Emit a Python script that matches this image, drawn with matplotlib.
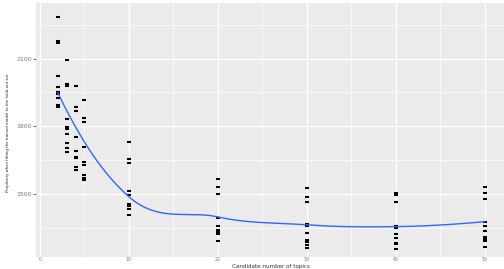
import numpy as np
import matplotlib
matplotlib.use("Agg")
import matplotlib.pyplot as plt

# perplexity values read per candidate number of topics
k_values = [2, 3, 4, 5, 10, 20, 30, 40, 50]
perp_k2 = [2285, 2179, 2171, 2021, 1972, 1954, 1950, 1941, 1924, 1893, 1884]
perp_k3 = [2094, 1988, 1979, 1832, 1799, 1787, 1766, 1728, 1704, 1686]
perp_k4 = [1979, 1885, 1867, 1754, 1692, 1666, 1660, 1619, 1607]
perp_k5 = [1917, 1837, 1817, 1708, 1642, 1628, 1583, 1572, 1563]
perp_k10 = [1731, 1654, 1637, 1515, 1497, 1456, 1447, 1435, 1409]
perp_k20 = [1566, 1533, 1501, 1394, 1359, 1342, 1332, 1322, 1294]
perp_k30 = [1527, 1486, 1465, 1365, 1359, 1329, 1297, 1288, 1276, 1261]
perp_k40 = [1506, 1497, 1465, 1359, 1350, 1323, 1303, 1285, 1279, 1256]
perp_k50 = [1530, 1506, 1477, 1374, 1359, 1338, 1309, 1300, 1294, 1267]

x_ticks = [0, 10, 20, 30, 40, 50]
y_ticks = [1500, 1800, 2100]

groups = [perp_k2, perp_k3, perp_k4, perp_k5, perp_k10,
          perp_k20, perp_k30, perp_k40, perp_k50]
xs = np.concatenate([[k] * len(g) for k, g in zip(k_values, groups)]).astype(float)
ys = np.concatenate(groups).astype(float)


def local_fit(x, y, x0, span=0.75):
    # local quadratic with tricube weights -> value and slope at x0
    n = len(x)
    q = int(np.floor(n * span))
    d = np.abs(x - x0)
    dmax = np.sort(d)[q - 1]
    w = np.clip(1 - (d / dmax) ** 3, 0, None) ** 3
    X = np.column_stack([np.ones(n), x - x0, (x - x0) ** 2])
    W = np.sqrt(w)
    beta, *_ = np.linalg.lstsq(X * W[:, None], y * W, rcond=None)
    return beta[0], beta[1]


def kd_vertices(x, fc):
    # split points like R's loess kd tree (1-d case)
    xs_sorted = np.sort(x)
    lo_b = xs_sorted[0] - 0.005 * (xs_sorted[-1] - xs_sorted[0])
    hi_b = xs_sorted[-1] + 0.005 * (xs_sorted[-1] - xs_sorted[0])
    verts = {lo_b, hi_b}

    def split(l, u, a, b):
        if u - l + 1 <= fc:
            return
        m = (l + u) // 2
        off = 0
        while l <= m + off < u:
            if xs_sorted[m + off] == xs_sorted[m + off + 1]:
                off = -off
                if off >= 0:
                    off += 1
            else:
                break
        else:
            return
        m = m + off
        v = xs_sorted[m]
        if v == a or v == b:
            return
        verts.add(v)
        split(l, m, a, v)
        split(m + 1, u, v, b)

    split(0, len(x) - 1, lo_b, hi_b)
    return np.array(sorted(verts))


def loess_curve(x, y, x_eval, span=0.75):
    fc = int(np.floor(len(x) * span * 0.2))
    verts = kd_vertices(x, fc)
    vals = np.array([local_fit(x, y, v, span) for v in verts])
    out = []
    for t in x_eval:
        i = min(np.searchsorted(verts, t, side='right') - 1, len(verts) - 2)
        x0, x1 = verts[i], verts[i + 1]
        h = x1 - x0
        s = (t - x0) / h
        h00 = 2 * s**3 - 3 * s**2 + 1
        h10 = s**3 - 2 * s**2 + s
        h01 = -2 * s**3 + 3 * s**2
        h11 = s**3 - s**2
        out.append(h00 * vals[i, 0] + h10 * h * vals[i, 1]
                   + h01 * vals[i + 1, 0] + h11 * h * vals[i + 1, 1])
    return np.array(out)


grid = np.linspace(xs.min(), xs.max(), 200)
smooth = loess_curve(xs, ys, grid)

fig = plt.figure(figsize=(5.04, 2.69), dpi=100)
ax = fig.add_axes([0.0722, 0.0446, 0.932, 0.9424])
ax.set_facecolor('#EBEBEB')

ax.set_xlim(-0.4, 52.4)
ax.set_ylim(1221, 2344)

# ggplot style grid
for v in [5, 15, 25, 35, 45]:
    ax.axvline(v, color='white', lw=0.5, zorder=0)
for v in [1350, 1650, 1950, 2250]:
    ax.axhline(v, color='white', lw=0.5, zorder=0)
for v in x_ticks:
    ax.axvline(v, color='white', lw=1.0, zorder=0)
for v in y_ticks:
    ax.axhline(v, color='white', lw=1.0, zorder=0)

ax.plot(xs, ys, linestyle='none', marker='_', markersize=3.4,
        markeredgewidth=1.5, color='black', zorder=2)
ax.plot(grid, smooth, color='#3366FF', lw=1.0, zorder=3)

for s in ax.spines.values():
    s.set_visible(False)

ax.set_xticks(x_ticks)
ax.set_yticks(y_ticks)
ax.set_xticklabels([str(v) for v in x_ticks])
ax.set_yticklabels([str(v) for v in y_ticks])
ax.tick_params(axis='y', length=2.2, width=0.5, color='#333333',
               labelsize=4.5, labelcolor='#777777', pad=1.0)
ax.tick_params(axis='x', length=0, width=0.5, color='#333333',
               labelsize=3.4, labelcolor='#777777', pad=-0.3)

# axis titles placed by hand, the plot is very tight at the bottom
fig.text(0.0722 + 0.932 / 2, 0.0, 'Candidate number of topics',
         ha='center', va='bottom', fontsize=4.1, color='#333333')
fig.text(0.016, 0.505, 'Perplexity when fitting the trained model to the hold-out set',
         rotation=90, ha='center', va='center', fontsize=2.8,
         family=['Liberation Sans Narrow', 'DejaVu Sans'], color='#222222')

fig.savefig('out.png', dpi=100)
